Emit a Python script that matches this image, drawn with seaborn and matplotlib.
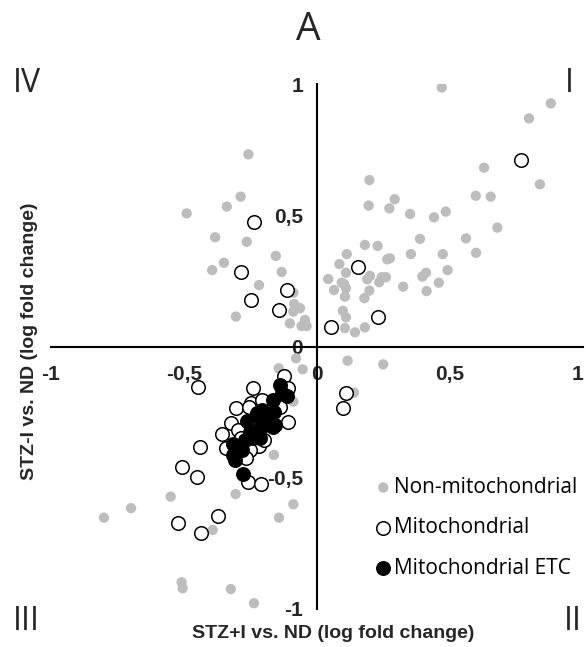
import matplotlib
matplotlib.use("Agg")
import matplotlib.pyplot as plt
import seaborn as sns
import pandas as pd

sns.set_style("white")
plt.rcParams['font.family'] = ['Liberation Sans', 'DejaVu Sans']

# Non-mitochondrial (grey)
nonmito_x = [-0.258, -0.287, -0.339, -0.490, -0.383, -0.264, -0.155, -0.394, -0.350, -0.133,
             -0.218, -0.305, -0.089, -0.086, -0.064, -0.089, -0.045, -0.102, -0.039, -0.058,
             0.469, 0.879, 0.797, 0.628, 0.838, 0.197, 0.597, 0.653, 0.194, 0.292,
             0.272, 0.350, 0.440, 0.484, 0.678, 0.387, 0.560, 0.180, 0.228,
             0.112, 0.084, 0.274, 0.264, 0.353, 0.473, 0.598, 0.109, 0.042, 0.093, 0.102,
             0.064, 0.109, 0.105, 0.199, 0.189, 0.197, 0.178, 0.243, 0.259, 0.234,
             0.324, 0.410, 0.396, 0.491, 0.458, 0.412, 0.097, 0.109, 0.105, 0.143, 0.180,
             0.115, 0.249, 0.139,
             -0.079, -0.054, -0.144, -0.162, -0.089, -0.801, -0.699, -0.550, -0.306, -0.089,
             -0.143, -0.392, -0.509, -0.505, -0.324, -0.237]
nonmito_y = [0.732, 0.571, 0.533, 0.507, 0.416, 0.399, 0.345, 0.291, 0.319, 0.284,
             0.234, 0.114, 0.205, 0.162, 0.146, 0.133, 0.101, 0.088, 0.078, 0.078,
             0.987, 0.926, 0.869, 0.681, 0.618, 0.634, 0.574, 0.571, 0.537, 0.561,
             0.526, 0.505, 0.492, 0.514, 0.453, 0.410, 0.412, 0.387, 0.383,
             0.352, 0.314, 0.336, 0.332, 0.352, 0.352, 0.357, 0.281, 0.257, 0.243, 0.238,
             0.215, 0.222, 0.190, 0.269, 0.256, 0.213, 0.184, 0.264, 0.264, 0.245,
             0.228, 0.281, 0.266, 0.291, 0.243, 0.211, 0.136, 0.111, 0.070, 0.054, 0.073,
             -0.054, -0.068, -0.176,
             -0.045, -0.087, -0.083, -0.413, -0.210, -0.652, -0.616, -0.572, -0.562, -0.601,
             -0.652, -0.699, -0.898, -0.921, -0.924, -0.978]

# Mitochondrial (open circles)
mito_x = [-0.237, -0.286, -0.114, -0.249, -0.143, 0.767, 0.153, 0.228, 0.053, 0.109, 0.099,
          -0.446, -0.440, -0.506, -0.450, -0.123, -0.242, -0.306, -0.248, -0.323, -0.356,
          -0.342, -0.108, -0.114, -0.208, -0.298, -0.286, -0.217, -0.198, -0.252, -0.139,
          -0.108, -0.255, -0.267,
          -0.521, -0.436, -0.373, -0.258, -0.211]
mito_y = [0.475, 0.285, 0.215, 0.177, 0.139, 0.709, 0.304, 0.111, 0.073, -0.176, -0.235,
          -0.156, -0.382, -0.458, -0.498, -0.111, -0.157, -0.235, -0.216, -0.293, -0.334,
          -0.388, -0.286, -0.166, -0.204, -0.318, -0.350, -0.379, -0.356, -0.394, -0.229,
          -0.159, -0.229, -0.426,
          -0.671, -0.712, -0.646, -0.517, -0.524]

# Mitochondrial ETC (black)
etc_x = [-0.139, -0.114, -0.165, -0.208, -0.162, -0.227, -0.264, -0.189, -0.164, -0.214,
         -0.252, -0.242, -0.271, -0.315, -0.214, -0.315, -0.308, -0.283, -0.179, -0.133,
         -0.277, -0.195, -0.224, -0.158]
etc_y = [-0.145, -0.187, -0.204, -0.242, -0.248, -0.265, -0.284, -0.280, -0.306, -0.312,
         -0.325, -0.350, -0.356, -0.371, -0.350, -0.413, -0.432, -0.394, -0.293, -0.178,
         -0.486, -0.299, -0.254, -0.299]

ticks = [-1, -0.5, 0, 0.5, 1]
tick_labels = ["-1", "-0,5", "0", "0,5", "1"]

df_non = pd.DataFrame({"x": nonmito_x, "y": nonmito_y})
df_mito = pd.DataFrame({"x": mito_x, "y": mito_y})
df_etc = pd.DataFrame({"x": etc_x, "y": etc_y})

fig = plt.figure(figsize=(5.86, 6.47), dpi=100)
ax = fig.add_axes([51/586, 1-609/647, (583-51)/586, (609-84)/647])

sns.scatterplot(data=df_non, x="x", y="y", ax=ax, s=55, color="#bdbdbd",
                edgecolor="none", label="Non-mitochondrial", zorder=2)
sns.scatterplot(data=df_mito, x="x", y="y", ax=ax, s=95, color="white",
                edgecolor="black", linewidth=1.1, label="Mitochondrial", zorder=3)
sns.scatterplot(data=df_etc, x="x", y="y", ax=ax, s=95, color="black",
                edgecolor="black", linewidth=1.0, label="Mitochondrial ETC", zorder=4)

ax.set_xlim(-1, 1)
ax.set_ylim(-1, 1)
ax.spines['left'].set_position(('data', 0))
ax.spines['bottom'].set_position(('data', 0))
ax.spines['right'].set_visible(False)
ax.spines['top'].set_visible(False)
for sp in ('left', 'bottom'):
    ax.spines[sp].set_linewidth(1.5)
    ax.spines[sp].set_color('black')
ax.set_xticks(ticks)
ax.set_xticklabels(tick_labels)
ax.set_yticks(ticks)
ax.set_yticklabels(tick_labels)
ax.tick_params(axis='both', direction='out', length=6, width=1.3, labelsize=15,
               color='black')
ax.tick_params(axis='x', pad=7)
ax.tick_params(axis='y', pad=4)
for lab in ax.get_xticklabels() + ax.get_yticklabels():
    lab.set_fontweight('bold')
ax.get_xticklabels()[-1].set_horizontalalignment('right')
ax.set_xlabel("")
ax.set_ylabel("")
ax.patch.set_alpha(0)

fig.text(333/586, 1-633/647, "STZ+I vs. ND (log fold change)", ha='center', va='center',
         fontsize=14, fontweight='bold')
fig.text(30/586, 1-341/647, "STZ-I vs. ND (log fold change)", ha='center', va='center',
         rotation=90, fontsize=14, fontweight='bold')

thin = dict(family=['Open Sans', 'DejaVu Sans'], fontweight='normal')
fig.text(308/586, 1-30/647, "A", ha='center', va='center', fontsize=28, **thin)
fig.text(27/586, 1-84/647, "IV", ha='center', va='center', fontsize=23, **thin)
fig.text(569/586, 1-84/647, "I", ha='center', va='center', fontsize=23, **thin)
fig.text(26/586, 1-622/647, "III", ha='center', va='center', fontsize=23, **thin)
fig.text(573/586, 1-622/647, "II", ha='center', va='center', fontsize=23, **thin)

leg = ax.legend(loc='upper left', bbox_to_anchor=(376/586, 1-477/647),
                bbox_transform=fig.transFigure, frameon=False, borderpad=0,
                borderaxespad=0, handlelength=0.7, handletextpad=0.15,
                labelspacing=0.93, prop={'family': ['Open Sans', 'DejaVu Sans'], 'size': 15})
for t in leg.get_texts():
    t.set_color('black')

fig.savefig("out.png", dpi=100)
